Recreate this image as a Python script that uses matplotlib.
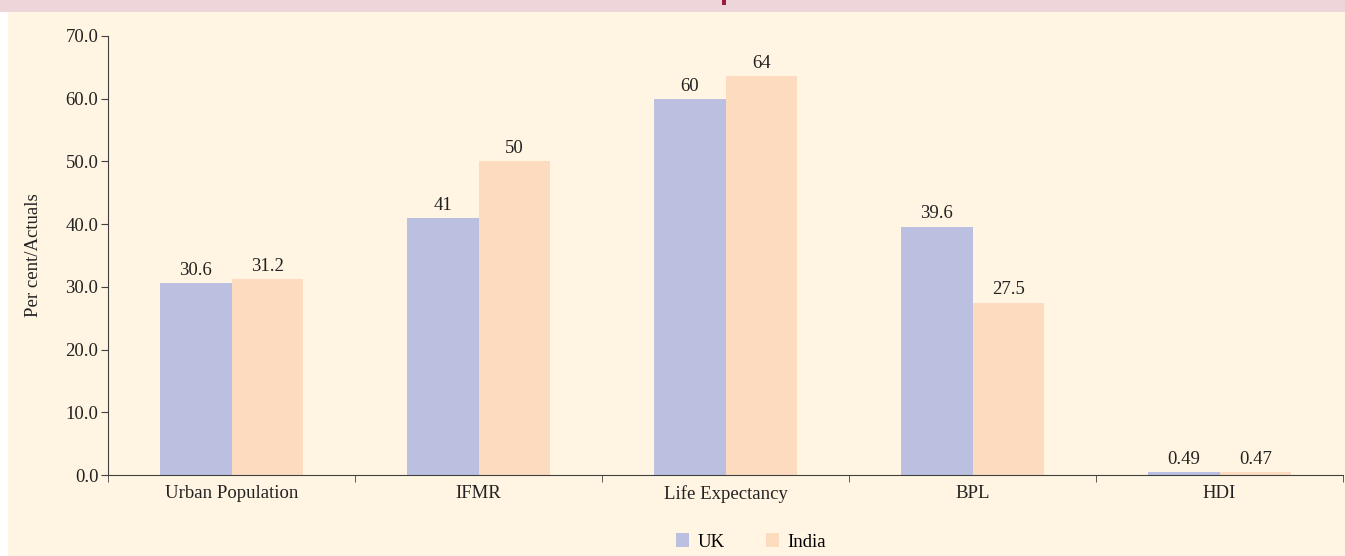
import matplotlib.pyplot as plt
import numpy as np
from matplotlib.patches import Rectangle

categories = ["Urban Population", "IFMR", "Life Expectancy", "BPL", "HDI"]
uk_values = [30.6, 41, 60, 39.6, 0.49]
india_values = [31.2, 50, 63.6, 27.5, 0.47]
uk_labels = ["30.6", "41", "60", "39.6", "0.49"]
india_labels = ["31.2", "50", "64", "27.5", "0.47"]
y_ticks = [0, 10, 20, 30, 40, 50, 60, 70]

uk_color = "#BBBFE0"
india_color = "#FDDBBF"
bg_color = "#FFF5E2"
axis_color = "#404040"
text_color = "#222222"
fs = 13.5

plt.rcParams["font.family"] = ["Liberation Serif", "DejaVu Serif"]

fig = plt.figure(figsize=(13.45, 5.56), dpi=100)
fig.patch.set_facecolor("white")
# cream panel and pink header band
fig.patches.append(Rectangle((8 / 1345, 0), 1 - 8 / 1345, 1 - 12 / 556,
                             transform=fig.transFigure, facecolor=bg_color,
                             edgecolor="none", zorder=-2))
fig.patches.append(Rectangle((0, 1 - 12 / 556), 1, 12 / 556,
                             transform=fig.transFigure, facecolor="#EDD5DA",
                             edgecolor="none", zorder=-2))
fig.patches.append(Rectangle((722 / 1345, 1 - 5 / 556), 4 / 1345, 5 / 556,
                             transform=fig.transFigure, facecolor="#9B1B3F",
                             edgecolor="none", zorder=-1))

ax = fig.add_axes([108 / 1345, 81 / 556, 1235 / 1345, 439 / 556])
ax.set_facecolor("none")
ax.set_zorder(5)

x = np.arange(len(categories))
w = 0.29
b1 = ax.bar(x - w / 2, uk_values, w, color=uk_color, label="UK")
b2 = ax.bar(x + w / 2, india_values, w, color=india_color, label="India")

for bars, labs in ((b1, uk_labels), (b2, india_labels)):
    for r, t in zip(bars, labs):
        ax.annotate(t, (r.get_x() + r.get_width() / 2, r.get_height()),
                    xytext=(0, 3), textcoords="offset points",
                    ha="center", va="bottom", fontsize=fs, color=text_color)

ax.set_xlim(-0.5, len(categories) - 0.5)
ax.set_ylim(0, 70)
ax.set_yticks(y_ticks)
ax.set_yticklabels([f"{v:.1f}" for v in y_ticks], fontsize=fs, color=text_color)
ax.set_xticks(x)
ax.set_xticklabels(categories, fontsize=fs, color=text_color)
ax.tick_params(axis="x", length=0, pad=7)
ax.set_xticks(np.arange(len(categories) + 1) - 0.5, minor=True)
ax.tick_params(axis="x", which="minor", length=5, color=axis_color, direction="out")
ax.tick_params(axis="y", length=5, color=axis_color, direction="out", pad=2)

for s in ("top", "right"):
    ax.spines[s].set_visible(False)
ax.spines["left"].set_color(axis_color)
ax.spines["bottom"].set_color(axis_color)

ax.set_ylabel("Per cent/Actuals", fontsize=fs, color=text_color, labelpad=17)

fig.legend(handles=[b1, b2], labels=["UK", "India"], loc="center",
           bbox_to_anchor=(751 / 1345, 1 - 542 / 556), ncol=2, frameon=False,
           fontsize=fs, handlelength=0.7, handleheight=0.7, columnspacing=2.2,
           handletextpad=0.45)

fig.savefig("out.png", dpi=100, facecolor=fig.get_facecolor())
